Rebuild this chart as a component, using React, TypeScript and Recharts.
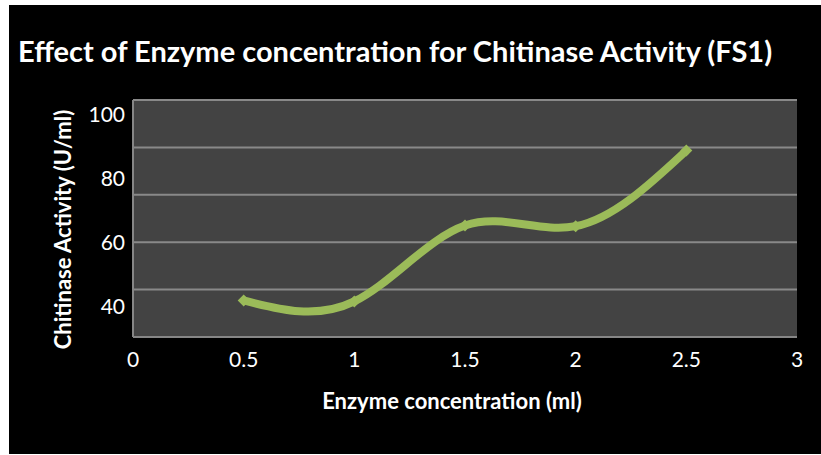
import React from "react";
import { LineChart, Line, XAxis, YAxis, CartesianGrid, Label, ReferenceLine } from "recharts";

// enzyme concentration (ml) vs chitinase activity (U/ml)
const concentrations = [0.5, 1, 1.5, 2, 2.5];
const activity = [41.9, 41.6, 65.3, 65.1, 88.7];

const xTicks = [0, 0.5, 1, 1.5, 2, 2.5, 3];
const yTicks = [40, 60, 80, 100];
const yDomain: [number, number] = [30.5, 104.5];

// gridlines split the value range into five equal bands
const GRID_BANDS = 5;
const gridValues = Array.from(
  { length: GRID_BANDS },
  (_, i) => yDomain[0] + ((i + 1) * (yDomain[1] - yDomain[0])) / GRID_BANDS
);

const data = concentrations.map((conc, i) => ({ conc, activity: activity[i] }));

const GREEN = "#9BBB59";
const GRID = "#898989";
const FONT = "Lato, 'Open Sans', sans-serif";

const Diamond = (props: any) => {
  const { cx, cy, index } = props;
  const r = 6;
  return (
    <path
      key={index}
      d={`M${cx},${cy - r}L${cx + r},${cy}L${cx},${cy + r}L${cx - r},${cy}Z`}
      fill={GREEN}
    />
  );
};

const YTitle = ({ viewBox }: any) => {
  const x = viewBox.x + 53;
  const y = viewBox.y + viewBox.height / 2 + 11;
  return (
    <text
      x={x}
      y={y}
      transform={`rotate(-90 ${x} ${y})`}
      textAnchor="middle"
      dominantBaseline="central"
      fill="#fff"
      fontSize={22}
      fontWeight="bold"
      fontFamily={FONT}
    >
      Chitinase Activity (U/ml)
    </text>
  );
};

export default function App() {
  return (
    <div style={{ position: "absolute", left: 0, top: 0, width: 821, height: 455, background: "#fff" }}>
      <div style={{ position: "absolute", left: 9, top: 5, width: 812, height: 449, background: "#000" }}>
        <div
          style={{
            position: "absolute",
            left: 9,
            top: 29,
            color: "#fff",
            fontFamily: FONT,
            fontWeight: "bold",
            fontSize: 29,
            lineHeight: 1.2,
            whiteSpace: "nowrap",
          }}
        >
          Effect of Enzyme concentration for Chitinase Activity (FS1)
        </div>
        <div style={{ position: "absolute", left: 0, top: 0 }}>
          <LineChart
            width={812}
            height={449}
            data={data}
            margin={{ top: 95, right: 24, left: 0, bottom: 0 }}
          >
            <CartesianGrid horizontal={false} vertical={false} fill="#434343" />
            <XAxis
              dataKey="conc"
              type="number"
              domain={[0, 3]}
              ticks={xTicks}
              interval={0}
              allowDataOverflow
              height={117}
              tickLine={false}
              tickSize={6}
              tickMargin={9}
              axisLine={{ stroke: "#868686", strokeWidth: 2 }}
              tick={{ fill: "#fff", fontSize: 21, fontFamily: FONT }}
            >
              <Label
                value="Enzyme concentration (ml)"
                position="insideBottom"
                offset={45}
                dx={-13}
                fill="#fff"
                fontSize={22}
                fontWeight="bold"
                fontFamily={FONT}
              />
            </XAxis>
            <YAxis
              yAxisId="val"
              type="number"
              domain={yDomain}
              ticks={yTicks}
              interval={0}
              allowDataOverflow
              width={124}
              tickLine={false}
              axisLine={{ stroke: "#868686", strokeWidth: 2 }}
              tick={{ fill: "#fff", fontSize: 21, fontFamily: FONT }}
              label={<YTitle />}
            />
            {gridValues.map((g) => (
              <ReferenceLine
                key={g}
                yAxisId="val"
                y={g}
                ifOverflow="visible"
                stroke={GRID}
                strokeWidth={2}
              />
            ))}
            <Line
              yAxisId="val"
              type="natural"
              dataKey="activity"
              stroke={GREEN}
              strokeWidth={8}
              dot={<Diamond />}
              activeDot={false}
              isAnimationActive={false}
            />
          </LineChart>
        </div>
      </div>
    </div>
  );
}
